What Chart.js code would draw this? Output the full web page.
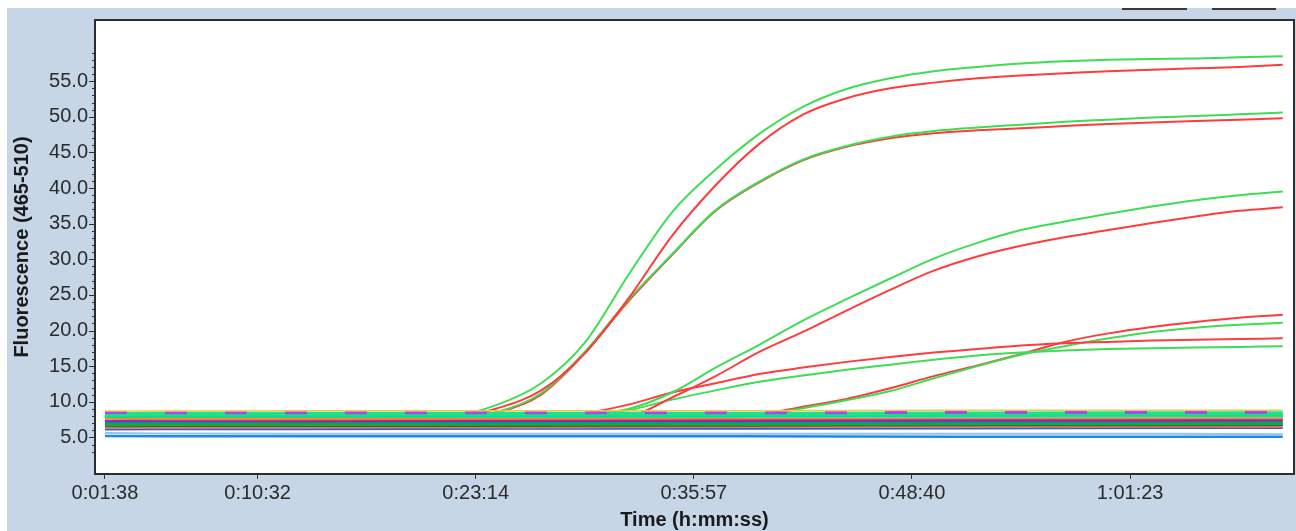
<!DOCTYPE html>
<html>
<head>
<meta charset="utf-8">
<script src="https://cdn.jsdelivr.net/npm/chart.js@4.4.1/dist/chart.umd.min.js"></script>
<style>
  html, body { margin: 0; padding: 0; background: #fff; }
  #frame { position: absolute; left: 7px; top: 8px; width: 1289px; height: 523px; background: #c6d6e6; }
</style>
</head>
<body>
<div id="frame"><canvas id="pcr"></canvas></div>
<script>
// x is the cycle number, the axis shows the time of each labelled cycle
const cycles = [1,3,5,7,9,11,13,15,17,19,21,23,25,27,29,31,33,35,37,39,41,43,45,47,49,51,53,55];
const xTickCycles = [1, 8, 18, 28, 38, 48];
const xTickLabels = ['0:01:38', '0:10:32', '0:23:14', '0:35:57', '0:48:40', '1:01:23'];
const yTickValues = [5, 10, 15, 20, 25, 30, 35, 40, 45, 50, 55];

// amplification curves (green / red pairs)
const greenA = [8.0,8.0,8.0,8.0,8.0,8.0,8.0,8.0,8.1,9.6,12.6,18.3,27.8,36.6,42.6,47.6,51.4,53.9,55.4,56.4,57.0,57.5,57.8,58.0,58.1,58.2,58.35,58.5];
const redA   = [7.9,7.9,7.9,7.9,7.9,7.9,7.9,7.9,7.9,9.1,11.6,16.8,24.5,33.3,40.4,46.2,50.3,52.6,54.0,54.8,55.4,55.8,56.1,56.4,56.6,56.8,57.0,57.3];
const greenB = [7.9,7.9,7.9,7.9,7.9,7.9,7.9,7.9,7.9,8.6,11.2,17.0,24.3,30.7,36.9,40.9,44.0,45.9,47.2,48.0,48.5,48.9,49.3,49.6,49.9,50.1,50.35,50.6];
const redB   = [7.9,7.9,7.9,7.9,7.9,7.9,7.9,7.9,7.9,8.5,11.0,16.8,24.1,30.6,36.8,40.8,43.9,45.8,47.0,47.7,48.1,48.4,48.7,49.0,49.2,49.4,49.6,49.8];
const greenC = [7.9,7.9,7.9,7.9,7.9,7.9,7.9,7.9,7.9,7.9,8.0,8.3,9.0,11.3,14.8,18.0,21.4,24.4,27.3,30.1,32.3,34.1,35.3,36.4,37.4,38.3,39.0,39.5];
const redC   = [7.8,7.8,7.8,7.8,7.8,7.8,7.8,7.8,7.8,7.8,7.8,7.8,8.0,10.6,13.6,17.0,19.8,22.8,25.7,28.4,30.4,31.9,33.1,34.1,35.1,36.0,36.8,37.3];
const redD   = [7.9,7.9,7.9,7.9,7.9,7.9,7.9,7.9,7.9,7.9,7.9,8.4,9.6,11.3,12.6,13.9,14.8,15.6,16.3,16.9,17.4,17.9,18.2,18.4,18.6,18.7,18.8,18.9];
const greenD = [7.9,7.9,7.9,7.9,7.9,7.9,7.9,7.9,7.9,7.9,7.9,8.0,8.8,10.3,11.6,12.8,13.7,14.5,15.2,15.9,16.5,16.9,17.2,17.4,17.5,17.6,17.7,17.8];
const redE   = [7.9,7.9,7.9,7.9,7.9,7.9,7.9,7.9,7.9,7.9,7.9,7.9,7.9,7.9,7.9,8.2,9.3,10.4,11.9,13.6,15.1,16.7,18.4,19.6,20.5,21.2,21.8,22.2];
const greenE = [7.9,7.9,7.9,7.9,7.9,7.9,7.9,7.9,7.9,7.9,7.9,7.9,7.9,7.9,7.9,8.1,9.1,10.2,11.5,13.3,15.0,16.6,17.8,18.9,19.8,20.4,20.8,21.1];

// flat negative / background samples
const baseCycles  = [1, 3.5, 10, 20, 30, 40, 50, 55];
const baseYellow  = [8.7, 8.7, 8.75, 8.75, 8.75, 8.8, 8.8, 8.8];
const baseMint    = [8.25, 8.3, 8.3, 8.3, 8.3, 8.35, 8.4, 8.4];
const baseSpring  = [7.95, 8.0, 8.0, 8.05, 8.05, 8.1, 8.1, 8.1];
const baseCyan    = [7.85, 7.9, 7.9, 7.85, 7.9, 7.9, 7.95, 7.95];
const basePurple  = [8.5, 8.45, 8.45, 8.45, 8.45, 8.5, 8.5, 8.5];
const baseOrange  = [7.6, 7.55, 7.55, 7.6, 7.65, 7.7, 7.7, 7.7];
const baseViolet  = [7.3, 7.35, 7.4, 7.4, 7.45, 7.45, 7.5, 7.5];
const baseMagenta = [7.25, 7.3, 7.25, 7.3, 7.3, 7.35, 7.35, 7.4];
const baseTeal    = [7.05, 7.05, 7.1, 7.1, 7.1, 7.1, 7.15, 7.15];
const baseGreen   = [6.75, 6.8, 6.8, 6.85, 6.85, 6.9, 6.9, 6.95];
const baseDkGreen = [6.55, 6.6, 6.6, 6.6, 6.65, 6.7, 6.7, 6.75];
const baseRed     = [6.35, 6.35, 6.4, 6.4, 6.45, 6.5, 6.5, 6.5];
const baseBlue    = [6.1, 6.15, 6.15, 6.2, 6.2, 6.25, 6.3, 6.3];
const baseSky     = [5.6, 5.55, 5.5, 5.5, 5.5, 5.5, 5.5, 5.45];
const baseAzure   = [5.2, 5.15, 5.15, 5.15, 5.15, 5.1, 5.1, 5.1];

const GREEN = '#3fdc55';
const RED = '#ff3b3b';
const FONT = '"Liberation Sans", Arial, sans-serif';

const pts = (xs, ys) => xs.map((x, i) => ({ x: x, y: ys[i] }));

function curve(ys, color) {
  return { data: pts(cycles, ys), borderColor: color, borderWidth: 2, cubicInterpolationMode: 'monotone' };
}
function flat(ys, color, width, dash) {
  return { data: pts(baseCycles, ys), borderColor: color, borderWidth: width, tension: 0, borderDash: dash || [] };
}

// drawn first = on top, so the flat band hides the curves' own baselines
const datasets = [
  flat(baseYellow, '#efc64a', 1.5),
  flat(basePurple, '#a04cf0', 3, [22, 38]),
  flat(baseMint, '#1fe08c', 4),
  flat(baseSpring, '#00e676', 3),
  flat(baseCyan, '#3fd8d0', 2),
  flat(baseOrange, '#ff7b2e', 2),
  flat(baseViolet, '#7a35c8', 2),
  flat(baseMagenta, '#c2185b', 2),
  flat(baseTeal, '#009e8e', 3),
  flat(baseGreen, '#22a822', 3),
  flat(baseDkGreen, '#0b7a3a', 2),
  flat(baseRed, '#ff6a5a', 2),
  flat(baseBlue, '#2f5fd0', 2),
  flat(baseSky, '#8ec3f2', 2),
  flat(baseAzure, '#1f86f0', 2.5),
  curve(greenA, GREEN), curve(redA, RED),
  curve(greenB, GREEN), curve(redB, RED),
  curve(greenC, GREEN), curve(redC, RED),
  curve(greenD, GREEN), curve(redD, RED),
  curve(greenE, GREEN), curve(redE, RED)
];

const plotBox = {
  id: 'plotBox',
  beforeDraw(chart) {
    const { ctx, chartArea: a } = chart;
    ctx.save();
    ctx.fillStyle = '#ffffff';
    ctx.fillRect(a.left, a.top, a.right - a.left, a.bottom - a.top);
    ctx.restore();
  },
  afterDraw(chart) {
    const { ctx, chartArea: a } = chart;
    const y = chart.scales.y;
    ctx.save();
    ctx.strokeStyle = '#2e2e2e';
    ctx.lineWidth = 1;
    ctx.beginPath();
    for (let v = 3; v <= 59; v++) {
      const py = Math.round(y.getPixelForValue(v)) + 0.5;
      const len = v % 5 === 0 ? 7 : 4;
      ctx.moveTo(a.left - len, py);
      ctx.lineTo(a.left, py);
    }
    ctx.stroke();
    ctx.lineWidth = 2;
    ctx.strokeRect(a.left - 1, a.top - 1, a.right - a.left + 2, a.bottom - a.top + 2);
    // bits of the toolbar cut off at the top
    ctx.strokeStyle = '#3a3a3a';
    ctx.beginPath();
    ctx.moveTo(1115, 1); ctx.lineTo(1180, 1);
    ctx.moveTo(1205, 1); ctx.lineTo(1269, 1);
    ctx.stroke();
    ctx.restore();
  }
};

new Chart(document.getElementById('pcr'), {
  type: 'line',
  data: { datasets: datasets },
  options: {
    responsive: true,
    maintainAspectRatio: false,
    animation: false,
    layout: { padding: { top: 11, right: 3, left: 0, bottom: 0 } },
    elements: { point: { radius: 0 } },
    plugins: { legend: { display: false }, tooltip: { enabled: false } },
    scales: {
      x: {
        type: 'linear',
        min: 0.59,
        max: 55.47,
        afterBuildTicks: s => { s.ticks = xTickCycles.map(v => ({ value: v })); },
        afterFit: s => { s.height = 58; },
        ticks: {
          callback: (v, i) => xTickLabels[i],
          font: { family: FONT, size: 20 },
          color: '#2b2b2b',
          padding: 2,
          maxRotation: 0,
          autoSkip: false
        },
        grid: { drawOnChartArea: false, tickLength: 6, color: '#333' },
        border: { display: false },
        title: {
          display: true,
          text: 'Time (h:mm:ss)',
          font: { family: FONT, size: 20, weight: 'bold', lineHeight: 1 },
          color: '#1a1a1a',
          padding: { top: 0, bottom: 1 }
        }
      },
      y: {
        min: 0,
        max: 63.45,
        afterBuildTicks: s => { s.ticks = yTickValues.map(v => ({ value: v })); },
        afterFit: s => { s.width = 89; },
        ticks: {
          callback: v => v.toFixed(1),
          font: { family: FONT, size: 20 },
          color: '#2b2b2b',
          padding: 1
        },
        grid: { display: false, tickLength: 7 },
        border: { display: false },
        title: {
          display: true,
          text: 'Fluorescence (465-510)',
          font: { family: FONT, size: 20, weight: 'bold' },
          color: '#1a1a1a',
          padding: { top: 3, bottom: 0 }
        }
      }
    }
  },
  plugins: [plotBox]
});
</script>
</body>
</html>
